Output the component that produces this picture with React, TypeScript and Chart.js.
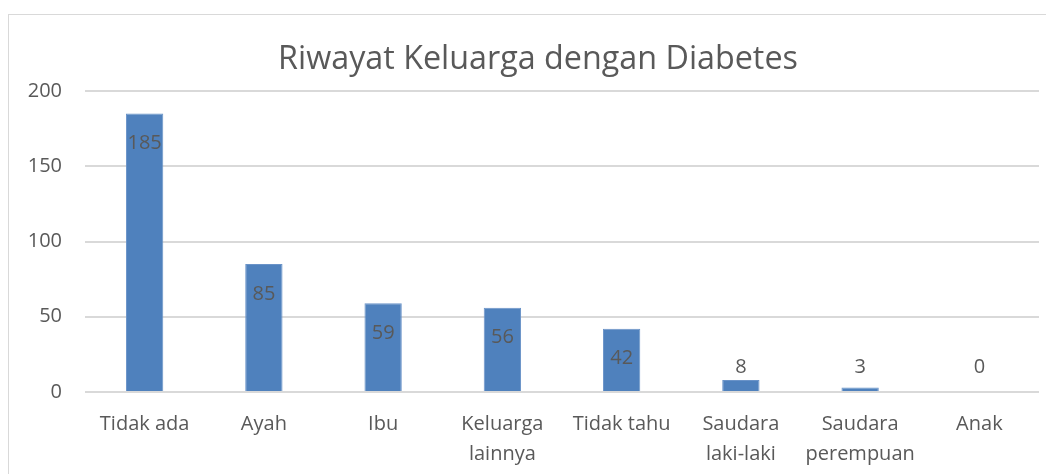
import React, { useEffect, useRef } from "react";
import { Chart, registerables } from "chart.js";

Chart.register(...registerables);

const categories: (string | string[])[] = [
  "Tidak ada",
  "Ayah",
  "Ibu",
  ["Keluarga", "lainnya"],
  "Tidak tahu",
  ["Saudara", "laki-laki"],
  ["Saudara", "perempuan"],
  "Anak",
];
const values: number[] = [185, 85, 59, 56, 42, 8, 3, 0];
const yTicks: number[] = [0, 50, 100, 150, 200];
const titleText = "Riwayat Keluarga dengan Diabetes";

const FONT = "'Open Sans', 'DejaVu Sans', sans-serif";
const TEXT = "#595959";

const labelPlugin = {
  id: "barLabels",
  afterDatasetsDraw(chart: any) {
    const ctx = chart.ctx;
    const meta = chart.getDatasetMeta(0);
    const base = chart.scales.y.getPixelForValue(0);
    ctx.save();
    ctx.font = `20px ${FONT}`;
    ctx.fillStyle = TEXT;
    ctx.textAlign = "center";
    ctx.textBaseline = "middle";
    meta.data.forEach((bar: any, i: number) => {
      const y = Math.min(bar.y + 30, base - 25);
      ctx.fillText(String(values[i]), bar.x, y);
    });
    // chart title, centred on the full (cropped) chart frame
    ctx.font = `32.3px ${FONT}`;
    ctx.fillText(titleText, 529, 45);
    ctx.restore();
  },
};

export default function App() {
  const ref = useRef<HTMLCanvasElement | null>(null);
  useEffect(() => {
    if (!ref.current) return;
    const chart = new Chart(ref.current, {
      type: "bar",
      data: {
        labels: categories,
        datasets: [
          {
            data: values,
            backgroundColor: "#4F81BD",
            borderColor: "#6A93C8",
            borderWidth: 1,
            categoryPercentage: 1,
            barPercentage: 0.313,
          },
        ],
      },
      options: {
        animation: false,
        responsive: false,
        maintainAspectRatio: false,
        layout: { padding: { left: 0, right: 28, top: 76, bottom: 0 } },
        plugins: {
          legend: { display: false },
          tooltip: { enabled: false },
          title: { display: false },
        },
        scales: {
          x: {
            grid: { display: false, drawTicks: false },
            border: { display: false },
            ticks: {
              color: TEXT,
              font: { family: FONT, size: 20, lineHeight: "29.5px" } as any,
              padding: 18,
              maxRotation: 0,
              autoSkip: false,
            },
            afterFit: (s: any) => {
              s.height = 83;
            },
          },
          y: {
            min: 0,
            max: 200,
            afterBuildTicks: (s: any) => {
              s.ticks = yTicks.map((v) => ({ value: v }));
            },
            grid: { color: "#D9D9D9", lineWidth: 2, drawTicks: false },
            border: { display: false },
            ticks: {
              color: TEXT,
              font: { family: FONT, size: 20 },
              padding: 23,
            },
            afterFit: (s: any) => {
              s.width = 76;
            },
          },
        },
      },
      plugins: [labelPlugin],
    });
    return () => chart.destroy();
  }, []);

  return (
    <div
      style={{
        marginTop: 6,
        width: 1045,
        height: 460,
        borderLeft: "1px solid #D9D9D9",
        borderTop: "1px solid #D9D9D9",
        overflow: "hidden",
      }}
    >
      <canvas ref={ref} width={1058} height={460} style={{ display: "block" }} />
    </div>
  );
}
